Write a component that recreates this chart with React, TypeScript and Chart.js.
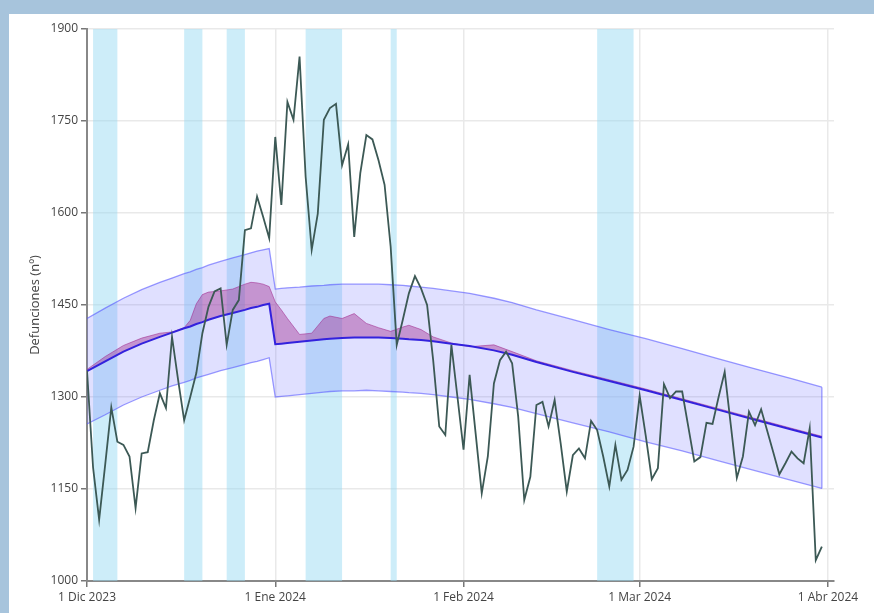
import React, { useEffect, useRef } from "react";
import { Chart, registerables } from "chart.js";

Chart.register(...registerables);

// Day index 0 = 1 Dic 2023
const OBSERVED = [
  1343, 1185, 1100, 1190, 1283, 1227, 1222, 1203, 1119, 1208,
  1210, 1262, 1306, 1282, 1398, 1328, 1262, 1300, 1339, 1404,
  1447, 1472, 1477, 1385, 1442, 1458, 1572, 1575, 1627, 1594,
  1559, 1724, 1613, 1781, 1752, 1855, 1659, 1540, 1599, 1752,
  1771, 1778, 1678, 1712, 1561, 1665, 1727, 1720, 1686, 1646,
  1545, 1385, 1426, 1469, 1497, 1477, 1450, 1360, 1252, 1238,
  1385, 1300, 1214, 1336, 1240, 1143, 1203, 1322, 1360, 1374,
  1355, 1268, 1132, 1170, 1287, 1292, 1252, 1295, 1224, 1146,
  1205, 1216, 1200, 1261, 1246, 1203, 1154, 1222, 1165, 1181,
  1219, 1302, 1237, 1166, 1184, 1321, 1298, 1309, 1309, 1252,
  1195, 1202, 1258, 1256, 1300, 1341, 1255, 1168, 1203, 1276,
  1254, 1280, 1245, 1210, 1174, 1192, 1211, 1200, 1192, 1249,
  1034, 1056,
];

const MODEL_DAYS = [
  0, 3, 6, 9, 12, 14, 16, 17, 18, 19, 20, 22, 24, 26, 27, 28, 29, 30,
  31, 32, 33, 35, 37, 39, 40, 42, 44, 46, 48, 50, 52, 53, 55, 57, 60,
  63, 67, 70, 74, 80, 86, 92, 98, 104, 110, 116, 121,
];
const EXPECTED = [
  1342, 1358, 1374, 1387, 1398, 1405, 1412, 1415, 1419, 1422, 1426, 1432, 1437, 1442, 1445, 1447, 1450, 1452,
  1386, 1387, 1388, 1390, 1392, 1394, 1395, 1396, 1397, 1397, 1397, 1396, 1395, 1394, 1393, 1391, 1387,
  1383, 1376, 1369, 1357, 1341, 1326, 1311, 1295, 1279, 1263, 1247, 1234,
];
const UPPER = [
  1428, 1445, 1461, 1475, 1487, 1494, 1501, 1504, 1508, 1511, 1515, 1521, 1527, 1532, 1535, 1538, 1540, 1542,
  1476, 1477, 1478, 1479, 1481, 1482, 1483, 1484, 1484, 1484, 1484, 1483, 1482, 1481, 1479, 1477, 1473,
  1469, 1461, 1454, 1442, 1426, 1410, 1395, 1379, 1362, 1346, 1330, 1316,
];
const LOWER = [
  1256, 1271, 1287, 1300, 1311, 1318, 1324, 1327, 1331, 1334, 1337, 1343, 1348, 1353, 1356, 1358, 1361, 1364,
  1300, 1301, 1302, 1304, 1306, 1308, 1309, 1310, 1310, 1311, 1310, 1309, 1308, 1307, 1306, 1304, 1300,
  1296, 1289, 1283, 1273, 1258, 1243, 1227, 1212, 1196, 1180, 1164, 1151,
];
const MODEL_HIGH = [
  1345, 1366, 1384, 1396, 1404, 1406, 1413, 1425, 1452, 1467, 1471, 1473, 1476, 1484, 1487, 1486, 1484, 1480,
  1455, 1442, 1428, 1402, 1404, 1428, 1432, 1428, 1436, 1420, 1413, 1407, 1414, 1417, 1410, 1398, 1388,
  1382, 1385, 1374, 1359, 1343, 1328, 1313, 1297, 1281, 1265, 1249, 1236,
];

const EVENT_RANGES: [number, number][] = [
  [1, 5], [16, 19], [23, 26], [36, 42], [50, 51], [84, 90],
];

const TICK_DAYS = [0, 31, 62, 91, 122];
const TICK_LABELS = ["1 Dic 2023", "1 Ene 2024", "1 Feb 2024", "1 Mar 2024", "1 Abr 2024"];
const Y_MIN = 1000;
const Y_MAX = 1900;
const Y_STEP = 150;
const X_MAX = 123;

const FONT = "'Open Sans', 'DejaVu Sans', sans-serif";

const eventBands = {
  id: "eventBands",
  beforeDatasetsDraw(chart: any) {
    const { ctx, chartArea, scales } = chart;
    const xs = scales.x;
    ctx.save();
    ctx.fillStyle = "rgba(150,218,242,0.48)";
    EVENT_RANGES.forEach(([a, b]) => {
      const x1 = xs.getPixelForValue(a);
      const x2 = xs.getPixelForValue(b);
      ctx.fillRect(x1, chartArea.top, x2 - x1, chartArea.bottom - chartArea.top);
    });
    ctx.restore();
  },
};

export default function App() {
  const ref = useRef<HTMLCanvasElement | null>(null);

  useEffect(() => {
    if (!ref.current) return;
    const model = (arr: number[]) => MODEL_DAYS.map((d, i) => ({ x: d, y: arr[i] }));
    const bandColor = "rgba(85,85,255,0.6)";
    const last = MODEL_DAYS.length - 1;
    const chart = new Chart(ref.current, {
      type: "line",
      data: {
        datasets: [
          {
            label: "Observadas",
            data: OBSERVED.map((v, i) => ({ x: i, y: v })),
            borderColor: "#3c5955",
            borderWidth: 1.8,
            pointRadius: 0,
            fill: false,
            order: 0,
          },
          {
            label: "Esperadas",
            data: model(EXPECTED),
            borderColor: "#3322dd",
            borderWidth: 2,
            pointRadius: 0,
            fill: false,
            order: 1,
          },
          {
            label: "Exceso",
            data: model(MODEL_HIGH),
            borderColor: "rgba(160,40,140,0.55)",
            borderWidth: 1,
            pointRadius: 0,
            fill: { target: 1, above: "rgba(165,55,150,0.45)", below: "rgba(0,0,0,0)" },
            order: 2,
          },
          {
            label: "Superior",
            data: model(UPPER),
            borderColor: bandColor,
            borderWidth: 1.3,
            pointRadius: 0,
            backgroundColor: "rgba(110,110,255,0.21)",
            fill: 4,
            order: 3,
          },
          {
            label: "Inferior",
            data: model(LOWER),
            borderColor: bandColor,
            borderWidth: 1.3,
            pointRadius: 0,
            fill: false,
            order: 4,
          },
          {
            label: "Borde",
            data: [
              { x: MODEL_DAYS[last], y: UPPER[last] },
              { x: MODEL_DAYS[last], y: LOWER[last] },
            ],
            borderColor: bandColor,
            borderWidth: 1.3,
            pointRadius: 0,
            fill: false,
            order: 3,
          },
        ],
      },
      options: {
        responsive: false,
        animation: false,
        devicePixelRatio: 1,
        layout: { padding: { top: 15, right: 40, left: 0, bottom: 0 } },
        plugins: {
          legend: { display: false },
          tooltip: { enabled: false },
        },
        scales: {
          x: {
            type: "linear",
            min: 0,
            max: X_MAX,
            afterBuildTicks: (scale: any) => {
              scale.ticks = TICK_DAYS.map((v) => ({ value: v }));
            },
            afterFit: (scale: any) => {
              scale.height = 32;
            },
            grid: {
              color: "#e9e9e9",
              lineWidth: 1.5,
              tickLength: 6,
              tickColor: "#777",
              tickWidth: 1.5,
            },
            border: { color: "#888", width: 2 },
            ticks: {
              autoSkip: false,
              maxRotation: 0,
              padding: 3,
              color: "#444",
              font: { family: FONT, size: 12 },
              callback: (v: any) => {
                const i = TICK_DAYS.indexOf(Number(v));
                return i >= 0 ? TICK_LABELS[i] : "";
              },
            },
          },
          y: {
            min: Y_MIN,
            max: Y_MAX,
            afterFit: (scale: any) => {
              scale.width = 78;
            },
            grid: {
              color: "#e9e9e9",
              lineWidth: 1.5,
              tickLength: 6,
              tickColor: "#777",
              tickWidth: 1.5,
            },
            border: { color: "#888", width: 2 },
            ticks: {
              stepSize: Y_STEP,
              padding: 3,
              color: "#444",
              font: { family: FONT, size: 12 },
              callback: (v: any) => String(v),
            },
            title: {
              display: true,
              text: "Defunciones (nº)",
              color: "#444",
              font: { family: FONT, size: 13 },
              padding: { top: 18, bottom: 0 },
            },
          },
        },
      },
      plugins: [eventBands],
    });
    return () => chart.destroy();
  }, []);

  return (
    <div
      style={{
        position: "fixed",
        left: 0,
        top: 0,
        width: 874,
        height: 613,
        background: "#a7c4dc",
        overflow: "hidden",
      }}
    >
      <div
        style={{
          position: "absolute",
          left: 9,
          top: 14,
          width: 865,
          height: 599,
          background: "#ffffff",
        }}
      >
        <canvas
          ref={ref}
          width={865}
          height={599}
          style={{ width: 865, height: 599, display: "block" }}
        />
      </div>
    </div>
  );
}
